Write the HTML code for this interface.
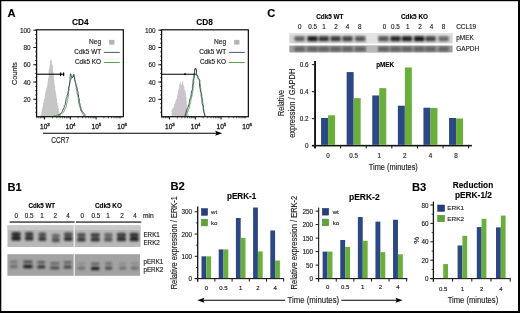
<!DOCTYPE html>
<html><head><meta charset="utf-8"><style>
html,body{margin:0;padding:0;background:#fff;}
.fig{position:relative;width:520px;height:313px;overflow:hidden;background:#fff;}
svg{position:absolute;left:0;top:0;will-change:transform;}
text{font-family:"Liberation Sans",sans-serif;}
</style></head><body><div class="fig">
<svg width="520" height="313" viewBox="0 0 520 313">
<defs>
<filter id="bl1" x="-5%" y="-20%" width="110%" height="140%"><feGaussianBlur stdDeviation="0.5"/></filter>
<filter id="bl2" x="-20%" y="-50%" width="140%" height="200%"><feGaussianBlur stdDeviation="0.9"/></filter>
<filter id="bl3" x="-20%" y="-50%" width="140%" height="200%"><feGaussianBlur stdDeviation="1.0"/></filter>
</defs>
<rect x="0" y="0" width="520" height="313" fill="#fff"/>
<text x="7.60" y="16.90" font-size="11.2" text-anchor="start" font-weight="bold" stroke="#000" stroke-width="0.12" fill="#000" >A</text>
<text x="80.30" y="25.10" font-size="8.3" text-anchor="middle" font-weight="bold" stroke="#000" stroke-width="0.12" fill="#000" >CD4</text>
<path d="M40.30,116.60 L40.55,115.50 L40.91,114.40 L41.45,113.30 L41.41,112.20 L41.72,111.10 L42.06,110.00 L41.98,109.00 L42.41,108.00 L42.69,107.00 L43.01,106.00 L42.72,105.00 L43.06,104.00 L43.11,103.00 L43.82,102.00 L43.94,101.00 L43.68,100.00 L44.55,99.00 L44.75,98.00 L44.75,97.00 L44.94,96.00 L44.83,95.00 L44.95,94.00 L45.52,93.00 L45.49,91.88 L45.88,90.75 L46.22,89.62 L46.37,88.50 L46.83,87.40 L46.98,86.30 L47.42,85.20 L47.35,84.10 L47.60,83.00 L47.68,81.86 L47.97,80.72 L48.01,79.58 L48.06,78.44 L48.75,77.30 L48.85,76.25 L48.84,75.20 L48.85,74.15 L48.67,73.10 L48.71,72.05 L48.85,71.00 L48.82,69.80 L49.44,68.60 L49.31,67.40 L49.74,66.20 L49.60,65.16 L50.18,64.12 L50.28,63.08 L49.87,62.04 L50.20,61.00 L50.89,59.93 L50.78,58.87 L51.34,57.80 L51.23,58.90 L51.30,60.00 L51.84,61.00 L52.09,62.00 L51.89,63.00 L51.91,64.00 L52.38,65.10 L53.12,66.20 L53.13,67.40 L52.83,68.60 L53.07,69.80 L53.12,71.00 L53.19,72.05 L53.81,73.10 L53.47,74.15 L53.84,75.20 L53.86,76.25 L53.78,77.30 L54.28,78.44 L53.98,79.58 L54.46,80.72 L54.21,81.86 L54.54,83.00 L54.50,84.10 L54.64,85.20 L55.23,86.30 L55.21,87.40 L54.96,88.50 L55.55,89.58 L55.26,90.67 L55.58,91.75 L56.08,92.83 L56.12,93.92 L55.92,95.00 L56.71,96.00 L56.34,97.00 L56.55,98.00 L57.08,99.00 L56.94,100.00 L57.09,101.00 L57.10,102.00 L57.28,103.00 L57.80,104.00 L57.73,105.00 L58.16,106.00 L58.17,107.00 L58.40,108.00 L58.92,109.00 L58.83,110.00 L59.13,111.00 L59.58,112.00 L59.34,113.00 L59.56,114.00 L60.79,115.30 L61.20,116.60 Z" fill="#c6c6c6" stroke="none" stroke-width="1" />
<path d="M53.00,116.40 L54.14,116.00 L55.29,115.60 L56.79,115.20 L57.64,114.80 L59.22,114.40 L60.42,114.00 L61.23,113.50 L62.50,113.00 L63.82,111.90 L64.54,110.70 L64.79,109.50 L65.28,108.30 L65.95,107.10 L66.45,105.98 L66.27,104.87 L66.58,103.75 L67.08,102.63 L67.52,101.52 L67.55,100.40 L67.64,99.28 L68.19,98.16 L67.83,97.04 L68.52,95.92 L68.37,94.80 L68.35,93.62 L68.40,92.43 L68.59,91.25 L68.96,90.07 L68.64,88.88 L68.95,87.70 L69.26,86.44 L69.38,85.18 L69.77,83.92 L69.76,82.66 L70.04,81.40 L70.57,80.20 L71.31,79.00 L71.56,77.95 L71.89,76.90 L73.05,75.20 L73.77,74.30 L73.90,75.62 L74.43,76.95 L74.59,78.27 L74.55,79.60 L74.97,80.82 L75.17,82.05 L75.60,83.28 L75.74,84.50 L75.72,85.75 L76.39,87.00 L76.12,88.25 L76.55,89.50 L76.95,90.60 L76.79,91.70 L77.19,92.80 L77.12,93.90 L77.70,95.00 L77.94,96.20 L78.00,97.40 L78.37,98.60 L78.21,99.80 L78.62,101.00 L78.76,102.12 L78.95,103.25 L79.07,104.38 L79.50,105.50 L79.93,106.67 L80.02,107.83 L80.50,109.00 L80.74,110.50 L81.72,112.00 L82.29,113.15 L83.10,114.30 L83.59,115.35 L84.00,116.40" fill="none" stroke="#62a444" stroke-width="0.95" stroke-linejoin="round"/>
<path d="M57.50,116.40 L58.49,115.60 L59.83,114.80 L60.57,113.65 L61.56,112.50 L62.43,111.25 L62.94,110.00 L63.29,108.86 L64.16,107.72 L64.20,106.58 L64.56,105.44 L65.40,104.30 L65.32,103.18 L65.77,102.07 L65.79,100.95 L66.12,99.83 L66.06,98.72 L66.58,97.60 L67.10,96.40 L67.26,95.20 L67.77,94.00 L68.10,92.80 L67.96,91.60 L68.60,90.40 L68.73,89.20 L68.78,88.00 L68.82,86.70 L69.52,85.40 L69.48,84.10 L69.73,82.88 L69.93,81.66 L69.93,80.44 L70.15,79.22 L69.94,78.00 L70.28,76.60 L70.17,75.20 L70.56,73.80 L71.08,74.80 L71.16,75.80 L71.73,76.80 L72.33,77.80 L73.48,76.00 L73.76,74.70 L74.11,75.80 L74.15,76.90 L74.50,78.00 L74.66,79.13 L74.88,80.27 L75.25,81.40 L75.51,82.48 L75.96,83.56 L76.09,84.64 L76.50,85.72 L76.71,86.80 L77.09,87.97 L77.20,89.13 L77.20,90.30 L77.84,91.42 L78.13,92.55 L78.32,93.67 L78.34,94.80 L78.65,96.10 L78.58,97.40 L79.17,98.70 L79.24,100.00 L79.22,101.20 L79.24,102.40 L79.86,103.60 L80.09,104.80 L79.95,106.03 L80.78,107.27 L80.95,108.50 L81.39,109.85 L82.08,111.20 L83.56,113.00 L84.82,114.30 L84.93,115.35 L85.80,116.40" fill="none" stroke="#2e4464" stroke-width="0.95" stroke-linejoin="round"/>
<rect x="36.60" y="29.80" width="86.75" height="86.90" fill="none" stroke="#141414" stroke-width="1.25"/>
<line x1="33.30" y1="30.20" x2="36.60" y2="30.20" stroke="#141414" stroke-width="1.0"/>
<text x="30.60" y="32.90" font-size="6.4" text-anchor="end" stroke="#1c1c1c" stroke-width="0.15" fill="#1c1c1c" >100</text>
<line x1="33.30" y1="47.48" x2="36.60" y2="47.48" stroke="#141414" stroke-width="1.0"/>
<text x="30.60" y="50.18" font-size="6.4" text-anchor="end" stroke="#1c1c1c" stroke-width="0.15" fill="#1c1c1c" >80</text>
<line x1="33.30" y1="64.76" x2="36.60" y2="64.76" stroke="#141414" stroke-width="1.0"/>
<text x="30.60" y="67.46" font-size="6.4" text-anchor="end" stroke="#1c1c1c" stroke-width="0.15" fill="#1c1c1c" >60</text>
<line x1="33.30" y1="82.04" x2="36.60" y2="82.04" stroke="#141414" stroke-width="1.0"/>
<text x="30.60" y="84.74" font-size="6.4" text-anchor="end" stroke="#1c1c1c" stroke-width="0.15" fill="#1c1c1c" >40</text>
<line x1="33.30" y1="99.32" x2="36.60" y2="99.32" stroke="#141414" stroke-width="1.0"/>
<text x="30.60" y="102.02" font-size="6.4" text-anchor="end" stroke="#1c1c1c" stroke-width="0.15" fill="#1c1c1c" >20</text>
<line x1="35.00" y1="30.20" x2="36.60" y2="30.20" stroke="#141414" stroke-width="0.7"/>
<line x1="35.00" y1="34.52" x2="36.60" y2="34.52" stroke="#141414" stroke-width="0.7"/>
<line x1="35.00" y1="38.84" x2="36.60" y2="38.84" stroke="#141414" stroke-width="0.7"/>
<line x1="35.00" y1="43.16" x2="36.60" y2="43.16" stroke="#141414" stroke-width="0.7"/>
<line x1="35.00" y1="47.48" x2="36.60" y2="47.48" stroke="#141414" stroke-width="0.7"/>
<line x1="35.00" y1="51.80" x2="36.60" y2="51.80" stroke="#141414" stroke-width="0.7"/>
<line x1="35.00" y1="56.12" x2="36.60" y2="56.12" stroke="#141414" stroke-width="0.7"/>
<line x1="35.00" y1="60.44" x2="36.60" y2="60.44" stroke="#141414" stroke-width="0.7"/>
<line x1="35.00" y1="64.76" x2="36.60" y2="64.76" stroke="#141414" stroke-width="0.7"/>
<line x1="35.00" y1="69.08" x2="36.60" y2="69.08" stroke="#141414" stroke-width="0.7"/>
<line x1="35.00" y1="73.40" x2="36.60" y2="73.40" stroke="#141414" stroke-width="0.7"/>
<line x1="35.00" y1="77.72" x2="36.60" y2="77.72" stroke="#141414" stroke-width="0.7"/>
<line x1="35.00" y1="82.04" x2="36.60" y2="82.04" stroke="#141414" stroke-width="0.7"/>
<line x1="35.00" y1="86.36" x2="36.60" y2="86.36" stroke="#141414" stroke-width="0.7"/>
<line x1="35.00" y1="90.68" x2="36.60" y2="90.68" stroke="#141414" stroke-width="0.7"/>
<line x1="35.00" y1="95.00" x2="36.60" y2="95.00" stroke="#141414" stroke-width="0.7"/>
<line x1="35.00" y1="99.32" x2="36.60" y2="99.32" stroke="#141414" stroke-width="0.7"/>
<line x1="35.00" y1="103.64" x2="36.60" y2="103.64" stroke="#141414" stroke-width="0.7"/>
<line x1="35.00" y1="107.96" x2="36.60" y2="107.96" stroke="#141414" stroke-width="0.7"/>
<line x1="35.00" y1="112.28" x2="36.60" y2="112.28" stroke="#141414" stroke-width="0.7"/>
<line x1="36.85" y1="116.70" x2="36.85" y2="118.30" stroke="#141414" stroke-width="0.7"/>
<line x1="38.89" y1="116.70" x2="38.89" y2="118.30" stroke="#141414" stroke-width="0.7"/>
<line x1="40.61" y1="116.70" x2="40.61" y2="118.30" stroke="#141414" stroke-width="0.7"/>
<line x1="42.10" y1="116.70" x2="42.10" y2="118.30" stroke="#141414" stroke-width="0.7"/>
<line x1="43.42" y1="116.70" x2="43.42" y2="118.30" stroke="#141414" stroke-width="0.7"/>
<line x1="44.60" y1="116.70" x2="44.60" y2="119.50" stroke="#141414" stroke-width="1.0"/>
<line x1="52.35" y1="116.70" x2="52.35" y2="118.30" stroke="#141414" stroke-width="0.7"/>
<line x1="56.89" y1="116.70" x2="56.89" y2="118.30" stroke="#141414" stroke-width="0.7"/>
<line x1="60.10" y1="116.70" x2="60.10" y2="118.30" stroke="#141414" stroke-width="0.7"/>
<line x1="62.60" y1="116.70" x2="62.60" y2="118.30" stroke="#141414" stroke-width="0.7"/>
<line x1="64.64" y1="116.70" x2="64.64" y2="118.30" stroke="#141414" stroke-width="0.7"/>
<line x1="66.36" y1="116.70" x2="66.36" y2="118.30" stroke="#141414" stroke-width="0.7"/>
<line x1="67.85" y1="116.70" x2="67.85" y2="118.30" stroke="#141414" stroke-width="0.7"/>
<line x1="69.17" y1="116.70" x2="69.17" y2="118.30" stroke="#141414" stroke-width="0.7"/>
<line x1="70.35" y1="116.70" x2="70.35" y2="119.50" stroke="#141414" stroke-width="1.0"/>
<line x1="78.10" y1="116.70" x2="78.10" y2="118.30" stroke="#141414" stroke-width="0.7"/>
<line x1="82.64" y1="116.70" x2="82.64" y2="118.30" stroke="#141414" stroke-width="0.7"/>
<line x1="85.85" y1="116.70" x2="85.85" y2="118.30" stroke="#141414" stroke-width="0.7"/>
<line x1="88.35" y1="116.70" x2="88.35" y2="118.30" stroke="#141414" stroke-width="0.7"/>
<line x1="90.39" y1="116.70" x2="90.39" y2="118.30" stroke="#141414" stroke-width="0.7"/>
<line x1="92.11" y1="116.70" x2="92.11" y2="118.30" stroke="#141414" stroke-width="0.7"/>
<line x1="93.60" y1="116.70" x2="93.60" y2="118.30" stroke="#141414" stroke-width="0.7"/>
<line x1="94.92" y1="116.70" x2="94.92" y2="118.30" stroke="#141414" stroke-width="0.7"/>
<line x1="96.10" y1="116.70" x2="96.10" y2="119.50" stroke="#141414" stroke-width="1.0"/>
<line x1="103.85" y1="116.70" x2="103.85" y2="118.30" stroke="#141414" stroke-width="0.7"/>
<line x1="108.39" y1="116.70" x2="108.39" y2="118.30" stroke="#141414" stroke-width="0.7"/>
<line x1="111.60" y1="116.70" x2="111.60" y2="118.30" stroke="#141414" stroke-width="0.7"/>
<line x1="114.10" y1="116.70" x2="114.10" y2="118.30" stroke="#141414" stroke-width="0.7"/>
<line x1="116.14" y1="116.70" x2="116.14" y2="118.30" stroke="#141414" stroke-width="0.7"/>
<line x1="117.86" y1="116.70" x2="117.86" y2="118.30" stroke="#141414" stroke-width="0.7"/>
<line x1="119.35" y1="116.70" x2="119.35" y2="118.30" stroke="#141414" stroke-width="0.7"/>
<line x1="120.67" y1="116.70" x2="120.67" y2="118.30" stroke="#141414" stroke-width="0.7"/>
<text x="44.90" y="128.5" font-size="6.5" text-anchor="middle" fill="#1c1c1c" stroke="#1c1c1c" stroke-width="0.3">10<tspan font-size="4.4" dy="-2.8">3</tspan></text>
<text x="70.65" y="128.5" font-size="6.5" text-anchor="middle" fill="#1c1c1c" stroke="#1c1c1c" stroke-width="0.3">10<tspan font-size="4.4" dy="-2.8">4</tspan></text>
<text x="96.40" y="128.5" font-size="6.5" text-anchor="middle" fill="#1c1c1c" stroke="#1c1c1c" stroke-width="0.3">10<tspan font-size="4.4" dy="-2.8">5</tspan></text>
<text x="122.15" y="128.5" font-size="6.5" text-anchor="middle" fill="#1c1c1c" stroke="#1c1c1c" stroke-width="0.3">10<tspan font-size="4.4" dy="-2.8">6</tspan></text>
<text x="101.15" y="44.20" font-size="6.6" text-anchor="end" stroke="#1c1c1c" stroke-width="0.15" fill="#1c1c1c" >Neg</text>
<rect x="109.15" y="39.90" width="5.30" height="4.70" fill="#b4b4b4" />
<text x="101.15" y="54.30" font-size="6.6" text-anchor="end" textLength="26.80" lengthAdjust="spacingAndGlyphs" stroke="#1c1c1c" stroke-width="0.15" fill="#1c1c1c" >Cdk5 WT</text>
<line x1="103.95" y1="52.40" x2="119.75" y2="52.40" stroke="#3a4a8a" stroke-width="0.95"/>
<text x="101.15" y="64.30" font-size="6.6" text-anchor="end" textLength="26.20" lengthAdjust="spacingAndGlyphs" stroke="#1c1c1c" stroke-width="0.15" fill="#1c1c1c" >Cdk5 KO</text>
<line x1="103.95" y1="62.50" x2="119.75" y2="62.50" stroke="#4a9e3a" stroke-width="0.95"/>
<line x1="36.60" y1="74.20" x2="64.20" y2="74.20" stroke="#000" stroke-width="1.1"/>
<line x1="60.60" y1="72.50" x2="60.60" y2="75.90" stroke="#000" stroke-width="1.2"/>
<line x1="63.60" y1="72.50" x2="63.60" y2="75.90" stroke="#000" stroke-width="1.2"/>
<text x="204.60" y="25.10" font-size="8.3" text-anchor="middle" font-weight="bold" stroke="#000" stroke-width="0.12" fill="#000" >CD8</text>
<path d="M171.50,116.60 L171.57,115.58 L171.55,114.57 L171.50,113.55 L171.75,112.53 L171.53,111.52 L171.35,110.50 L172.40,109.50 L172.68,108.50 L173.78,107.30 L174.01,106.10 L173.99,104.90 L174.39,103.93 L175.23,102.95 L175.40,101.97 L175.58,101.00 L175.90,99.90 L176.66,98.80 L177.10,97.70 L176.83,96.53 L177.53,95.35 L177.41,94.17 L177.98,93.00 L177.70,91.95 L178.45,90.90 L178.25,89.85 L178.97,88.80 L179.22,87.60 L179.11,86.40 L179.09,85.20 L179.33,84.00 L180.11,82.75 L180.32,81.50 L180.61,82.50 L180.88,83.50 L180.73,84.50 L181.60,85.50 L181.39,84.33 L181.92,83.17 L182.13,82.00 L182.47,80.50 L183.02,81.67 L183.30,82.83 L183.22,84.00 L183.52,85.17 L184.03,86.33 L184.39,87.50 L184.30,88.75 L184.66,90.00 L185.58,91.20 L185.88,92.40 L185.71,93.52 L186.43,94.64 L186.01,95.76 L186.39,96.88 L186.19,98.00 L186.80,99.02 L186.54,100.04 L186.46,101.06 L186.94,102.08 L186.66,103.10 L186.64,104.32 L186.93,105.55 L187.41,106.78 L186.95,108.00 L187.54,109.00 L187.43,110.00 L187.88,111.00 L187.69,112.00 L187.83,113.15 L188.32,114.30 L188.41,115.45 L188.60,116.60 Z" fill="#ccc4cd" stroke="none" stroke-width="1" />
<path d="M185.80,116.40 L186.25,114.95 L186.74,113.50 L187.64,112.00 L188.24,110.50 L188.32,109.40 L189.08,108.30 L189.57,107.20 L189.78,106.03 L189.56,104.85 L190.41,103.67 L190.26,102.50 L190.85,101.28 L190.75,100.05 L191.27,98.82 L191.44,97.60 L191.85,96.23 L192.13,94.87 L192.41,93.50 L192.65,92.15 L192.92,90.80 L192.94,89.70 L193.05,88.60 L193.37,87.50 L193.35,86.38 L193.53,85.25 L193.35,84.12 L193.77,83.00 L193.88,81.55 L193.62,80.10 L194.23,78.80 L194.33,77.50 L194.51,76.00 L194.78,74.50 L194.74,73.17 L194.77,71.83 L194.93,70.50 L194.79,68.80 L195.84,68.80 L196.22,69.90 L196.52,71.00 L196.55,72.27 L196.66,73.53 L197.09,74.80 L197.92,76.15 L198.47,77.50 L198.81,78.50 L199.59,79.50 L199.95,80.50 L200.07,81.62 L199.89,82.75 L200.17,83.88 L200.33,85.00 L200.25,86.17 L200.52,87.33 L200.76,88.50 L200.68,89.83 L201.03,91.17 L201.56,92.50 L201.54,93.78 L201.89,95.05 L201.79,96.32 L202.02,97.60 L202.52,98.82 L202.66,100.05 L202.42,101.28 L202.87,102.50 L203.11,103.67 L203.25,104.85 L203.40,106.03 L203.58,107.20 L203.60,108.63 L204.00,110.07 L204.06,111.50 L204.43,112.72 L204.75,113.95 L205.01,115.18 L205.00,116.40" fill="none" stroke="#62a444" stroke-width="0.95" stroke-linejoin="round"/>
<path d="M184.60,116.40 L185.36,114.95 L185.44,113.50 L186.21,112.00 L186.58,110.50 L186.95,109.40 L187.46,108.30 L188.18,107.20 L188.25,106.03 L188.80,104.85 L189.13,103.67 L189.33,102.50 L189.34,101.28 L189.67,100.05 L190.07,98.82 L190.42,97.60 L191.01,96.23 L191.16,94.87 L191.26,93.50 L191.40,92.15 L191.84,90.80 L192.35,89.70 L192.50,88.60 L192.39,87.50 L192.49,86.38 L192.61,85.25 L192.91,84.12 L193.11,83.00 L192.92,81.55 L193.34,80.10 L193.30,78.80 L193.94,77.50 L193.84,76.00 L194.35,74.50 L194.23,73.17 L194.59,71.83 L194.43,70.50 L195.04,68.60 L196.14,68.60 L196.20,69.80 L196.68,71.00 L196.54,72.27 L196.48,73.53 L196.50,74.80 L197.27,76.15 L197.66,77.50 L198.16,78.50 L198.92,79.50 L199.36,80.50 L199.56,81.62 L199.35,82.75 L199.69,83.88 L199.55,85.00 L199.80,86.17 L199.80,87.33 L200.06,88.50 L200.41,89.83 L200.29,91.17 L200.79,92.50 L201.18,93.78 L201.18,95.05 L201.19,96.32 L201.77,97.60 L201.84,98.82 L202.04,100.05 L201.92,101.28 L202.07,102.50 L202.22,103.67 L202.68,104.85 L203.06,106.03 L203.15,107.20 L203.17,108.63 L203.51,110.07 L203.64,111.50 L203.84,112.72 L204.58,113.95 L204.63,115.18 L204.80,116.40" fill="none" stroke="#2e4464" stroke-width="0.95" stroke-linejoin="round"/>
<rect x="161.60" y="29.80" width="86.75" height="86.90" fill="none" stroke="#141414" stroke-width="1.25"/>
<line x1="158.30" y1="30.20" x2="161.60" y2="30.20" stroke="#141414" stroke-width="1.0"/>
<text x="155.60" y="32.90" font-size="6.4" text-anchor="end" stroke="#1c1c1c" stroke-width="0.15" fill="#1c1c1c" >100</text>
<line x1="158.30" y1="47.48" x2="161.60" y2="47.48" stroke="#141414" stroke-width="1.0"/>
<text x="155.60" y="50.18" font-size="6.4" text-anchor="end" stroke="#1c1c1c" stroke-width="0.15" fill="#1c1c1c" >80</text>
<line x1="158.30" y1="64.76" x2="161.60" y2="64.76" stroke="#141414" stroke-width="1.0"/>
<text x="155.60" y="67.46" font-size="6.4" text-anchor="end" stroke="#1c1c1c" stroke-width="0.15" fill="#1c1c1c" >60</text>
<line x1="158.30" y1="82.04" x2="161.60" y2="82.04" stroke="#141414" stroke-width="1.0"/>
<text x="155.60" y="84.74" font-size="6.4" text-anchor="end" stroke="#1c1c1c" stroke-width="0.15" fill="#1c1c1c" >40</text>
<line x1="158.30" y1="99.32" x2="161.60" y2="99.32" stroke="#141414" stroke-width="1.0"/>
<text x="155.60" y="102.02" font-size="6.4" text-anchor="end" stroke="#1c1c1c" stroke-width="0.15" fill="#1c1c1c" >20</text>
<line x1="160.00" y1="30.20" x2="161.60" y2="30.20" stroke="#141414" stroke-width="0.7"/>
<line x1="160.00" y1="34.52" x2="161.60" y2="34.52" stroke="#141414" stroke-width="0.7"/>
<line x1="160.00" y1="38.84" x2="161.60" y2="38.84" stroke="#141414" stroke-width="0.7"/>
<line x1="160.00" y1="43.16" x2="161.60" y2="43.16" stroke="#141414" stroke-width="0.7"/>
<line x1="160.00" y1="47.48" x2="161.60" y2="47.48" stroke="#141414" stroke-width="0.7"/>
<line x1="160.00" y1="51.80" x2="161.60" y2="51.80" stroke="#141414" stroke-width="0.7"/>
<line x1="160.00" y1="56.12" x2="161.60" y2="56.12" stroke="#141414" stroke-width="0.7"/>
<line x1="160.00" y1="60.44" x2="161.60" y2="60.44" stroke="#141414" stroke-width="0.7"/>
<line x1="160.00" y1="64.76" x2="161.60" y2="64.76" stroke="#141414" stroke-width="0.7"/>
<line x1="160.00" y1="69.08" x2="161.60" y2="69.08" stroke="#141414" stroke-width="0.7"/>
<line x1="160.00" y1="73.40" x2="161.60" y2="73.40" stroke="#141414" stroke-width="0.7"/>
<line x1="160.00" y1="77.72" x2="161.60" y2="77.72" stroke="#141414" stroke-width="0.7"/>
<line x1="160.00" y1="82.04" x2="161.60" y2="82.04" stroke="#141414" stroke-width="0.7"/>
<line x1="160.00" y1="86.36" x2="161.60" y2="86.36" stroke="#141414" stroke-width="0.7"/>
<line x1="160.00" y1="90.68" x2="161.60" y2="90.68" stroke="#141414" stroke-width="0.7"/>
<line x1="160.00" y1="95.00" x2="161.60" y2="95.00" stroke="#141414" stroke-width="0.7"/>
<line x1="160.00" y1="99.32" x2="161.60" y2="99.32" stroke="#141414" stroke-width="0.7"/>
<line x1="160.00" y1="103.64" x2="161.60" y2="103.64" stroke="#141414" stroke-width="0.7"/>
<line x1="160.00" y1="107.96" x2="161.60" y2="107.96" stroke="#141414" stroke-width="0.7"/>
<line x1="160.00" y1="112.28" x2="161.60" y2="112.28" stroke="#141414" stroke-width="0.7"/>
<line x1="161.85" y1="116.70" x2="161.85" y2="118.30" stroke="#141414" stroke-width="0.7"/>
<line x1="163.89" y1="116.70" x2="163.89" y2="118.30" stroke="#141414" stroke-width="0.7"/>
<line x1="165.61" y1="116.70" x2="165.61" y2="118.30" stroke="#141414" stroke-width="0.7"/>
<line x1="167.10" y1="116.70" x2="167.10" y2="118.30" stroke="#141414" stroke-width="0.7"/>
<line x1="168.42" y1="116.70" x2="168.42" y2="118.30" stroke="#141414" stroke-width="0.7"/>
<line x1="169.60" y1="116.70" x2="169.60" y2="119.50" stroke="#141414" stroke-width="1.0"/>
<line x1="177.35" y1="116.70" x2="177.35" y2="118.30" stroke="#141414" stroke-width="0.7"/>
<line x1="181.89" y1="116.70" x2="181.89" y2="118.30" stroke="#141414" stroke-width="0.7"/>
<line x1="185.10" y1="116.70" x2="185.10" y2="118.30" stroke="#141414" stroke-width="0.7"/>
<line x1="187.60" y1="116.70" x2="187.60" y2="118.30" stroke="#141414" stroke-width="0.7"/>
<line x1="189.64" y1="116.70" x2="189.64" y2="118.30" stroke="#141414" stroke-width="0.7"/>
<line x1="191.36" y1="116.70" x2="191.36" y2="118.30" stroke="#141414" stroke-width="0.7"/>
<line x1="192.85" y1="116.70" x2="192.85" y2="118.30" stroke="#141414" stroke-width="0.7"/>
<line x1="194.17" y1="116.70" x2="194.17" y2="118.30" stroke="#141414" stroke-width="0.7"/>
<line x1="195.35" y1="116.70" x2="195.35" y2="119.50" stroke="#141414" stroke-width="1.0"/>
<line x1="203.10" y1="116.70" x2="203.10" y2="118.30" stroke="#141414" stroke-width="0.7"/>
<line x1="207.64" y1="116.70" x2="207.64" y2="118.30" stroke="#141414" stroke-width="0.7"/>
<line x1="210.85" y1="116.70" x2="210.85" y2="118.30" stroke="#141414" stroke-width="0.7"/>
<line x1="213.35" y1="116.70" x2="213.35" y2="118.30" stroke="#141414" stroke-width="0.7"/>
<line x1="215.39" y1="116.70" x2="215.39" y2="118.30" stroke="#141414" stroke-width="0.7"/>
<line x1="217.11" y1="116.70" x2="217.11" y2="118.30" stroke="#141414" stroke-width="0.7"/>
<line x1="218.60" y1="116.70" x2="218.60" y2="118.30" stroke="#141414" stroke-width="0.7"/>
<line x1="219.92" y1="116.70" x2="219.92" y2="118.30" stroke="#141414" stroke-width="0.7"/>
<line x1="221.10" y1="116.70" x2="221.10" y2="119.50" stroke="#141414" stroke-width="1.0"/>
<line x1="228.85" y1="116.70" x2="228.85" y2="118.30" stroke="#141414" stroke-width="0.7"/>
<line x1="233.39" y1="116.70" x2="233.39" y2="118.30" stroke="#141414" stroke-width="0.7"/>
<line x1="236.60" y1="116.70" x2="236.60" y2="118.30" stroke="#141414" stroke-width="0.7"/>
<line x1="239.10" y1="116.70" x2="239.10" y2="118.30" stroke="#141414" stroke-width="0.7"/>
<line x1="241.14" y1="116.70" x2="241.14" y2="118.30" stroke="#141414" stroke-width="0.7"/>
<line x1="242.86" y1="116.70" x2="242.86" y2="118.30" stroke="#141414" stroke-width="0.7"/>
<line x1="244.35" y1="116.70" x2="244.35" y2="118.30" stroke="#141414" stroke-width="0.7"/>
<line x1="245.67" y1="116.70" x2="245.67" y2="118.30" stroke="#141414" stroke-width="0.7"/>
<text x="169.90" y="128.5" font-size="6.5" text-anchor="middle" fill="#1c1c1c" stroke="#1c1c1c" stroke-width="0.3">10<tspan font-size="4.4" dy="-2.8">3</tspan></text>
<text x="195.65" y="128.5" font-size="6.5" text-anchor="middle" fill="#1c1c1c" stroke="#1c1c1c" stroke-width="0.3">10<tspan font-size="4.4" dy="-2.8">4</tspan></text>
<text x="221.40" y="128.5" font-size="6.5" text-anchor="middle" fill="#1c1c1c" stroke="#1c1c1c" stroke-width="0.3">10<tspan font-size="4.4" dy="-2.8">5</tspan></text>
<text x="247.15" y="128.5" font-size="6.5" text-anchor="middle" fill="#1c1c1c" stroke="#1c1c1c" stroke-width="0.3">10<tspan font-size="4.4" dy="-2.8">6</tspan></text>
<text x="226.15" y="44.20" font-size="6.6" text-anchor="end" stroke="#1c1c1c" stroke-width="0.15" fill="#1c1c1c" >Neg</text>
<rect x="234.15" y="39.90" width="5.30" height="4.70" fill="#b4b4b4" />
<text x="226.15" y="54.30" font-size="6.6" text-anchor="end" textLength="26.80" lengthAdjust="spacingAndGlyphs" stroke="#1c1c1c" stroke-width="0.15" fill="#1c1c1c" >Cdk5 WT</text>
<line x1="228.95" y1="52.40" x2="244.75" y2="52.40" stroke="#3a4a8a" stroke-width="0.95"/>
<text x="226.15" y="64.30" font-size="6.6" text-anchor="end" textLength="26.20" lengthAdjust="spacingAndGlyphs" stroke="#1c1c1c" stroke-width="0.15" fill="#1c1c1c" >Cdk5 KO</text>
<line x1="228.95" y1="62.50" x2="244.75" y2="62.50" stroke="#4a9e3a" stroke-width="0.95"/>
<line x1="161.60" y1="74.20" x2="195.80" y2="74.20" stroke="#000" stroke-width="1.1"/>
<circle cx="185.00" cy="74.2" r="1.0" fill="#000"/>
<text x="17.30" y="73.60" font-size="7.6" text-anchor="middle" textLength="23.00" lengthAdjust="spacingAndGlyphs" stroke="#1c1c1c" stroke-width="0.15" fill="#1c1c1c" transform="rotate(-90 17.3 73.6)">Counts</text>
<line x1="43.00" y1="133.30" x2="217.00" y2="133.30" stroke="#000" stroke-width="1.1"/>
<path d="M222.2,133.3 L215.2,130.8 L216.4,133.3 L215.2,135.8 Z" fill="#000" stroke="none" stroke-width="1" />
<text x="51.30" y="143.20" font-size="8.6" text-anchor="start" textLength="17.80" lengthAdjust="spacingAndGlyphs" stroke="#1c1c1c" stroke-width="0.15" fill="#1c1c1c" >CCR7</text>
<text x="267.30" y="17.10" font-size="11.2" text-anchor="start" font-weight="bold" stroke="#000" stroke-width="0.12" fill="#000" >C</text>
<text x="316.20" y="18.80" font-size="6.4" text-anchor="start" font-weight="bold" textLength="27.30" lengthAdjust="spacingAndGlyphs" stroke="#000" stroke-width="0.12" fill="#000" >Cdk5 WT</text>
<text x="401.00" y="18.80" font-size="6.4" text-anchor="start" font-weight="bold" textLength="27.00" lengthAdjust="spacingAndGlyphs" stroke="#000" stroke-width="0.12" fill="#000" >Cdk5 KO</text>
<text x="299.80" y="28.50" font-size="6.3" text-anchor="middle" stroke="#1c1c1c" stroke-width="0.15" fill="#1c1c1c" >0</text>
<text x="312.70" y="28.50" font-size="6.3" text-anchor="middle" stroke="#1c1c1c" stroke-width="0.15" fill="#1c1c1c" >0.5</text>
<text x="324.00" y="28.50" font-size="6.3" text-anchor="middle" stroke="#1c1c1c" stroke-width="0.15" fill="#1c1c1c" >1</text>
<text x="336.00" y="28.50" font-size="6.3" text-anchor="middle" stroke="#1c1c1c" stroke-width="0.15" fill="#1c1c1c" >2</text>
<text x="347.50" y="28.50" font-size="6.3" text-anchor="middle" stroke="#1c1c1c" stroke-width="0.15" fill="#1c1c1c" >4</text>
<text x="359.80" y="28.50" font-size="6.3" text-anchor="middle" stroke="#1c1c1c" stroke-width="0.15" fill="#1c1c1c" >8</text>
<text x="384.60" y="28.50" font-size="6.3" text-anchor="middle" stroke="#1c1c1c" stroke-width="0.15" fill="#1c1c1c" >0</text>
<text x="395.50" y="28.50" font-size="6.3" text-anchor="middle" stroke="#1c1c1c" stroke-width="0.15" fill="#1c1c1c" >0.5</text>
<text x="407.80" y="28.50" font-size="6.3" text-anchor="middle" stroke="#1c1c1c" stroke-width="0.15" fill="#1c1c1c" >1</text>
<text x="420.00" y="28.50" font-size="6.3" text-anchor="middle" stroke="#1c1c1c" stroke-width="0.15" fill="#1c1c1c" >2</text>
<text x="431.50" y="28.50" font-size="6.3" text-anchor="middle" stroke="#1c1c1c" stroke-width="0.15" fill="#1c1c1c" >4</text>
<text x="443.50" y="28.50" font-size="6.3" text-anchor="middle" stroke="#1c1c1c" stroke-width="0.15" fill="#1c1c1c" >8</text>
<text x="456.20" y="28.60" font-size="6.6" text-anchor="start" textLength="20.00" lengthAdjust="spacingAndGlyphs" stroke="#1c1c1c" stroke-width="0.15" fill="#1c1c1c" >CCL19</text>
<text x="456.20" y="40.10" font-size="6.6" text-anchor="start" textLength="17.60" lengthAdjust="spacingAndGlyphs" stroke="#1c1c1c" stroke-width="0.15" fill="#1c1c1c" >pMEK</text>
<text x="456.20" y="50.90" font-size="6.6" text-anchor="start" textLength="23.00" lengthAdjust="spacingAndGlyphs" stroke="#1c1c1c" stroke-width="0.15" fill="#1c1c1c" >GAPDH</text>
<g filter="url(#bl1)">
<rect x="289.30" y="33.00" width="163.30" height="10.30" fill="#d3d3d3" />
<rect x="289.30" y="33.00" width="163.30" height="2.40" fill="#e2e2e2" />
<rect x="366.50" y="33.00" width="11.50" height="10.30" fill="#e2e2e2" />
<rect x="289.30" y="45.60" width="163.30" height="6.80" fill="#9e9e9e" />
<rect x="366.50" y="45.60" width="11.50" height="6.80" fill="#b8b8b8" />
</g>
<g filter="url(#bl2)">
<rect x="294.50" y="36.3" width="10.2" height="5.0" rx="1.3" fill="rgb(99,99,99)"/>
<rect x="307.40" y="36.3" width="10.2" height="5.0" rx="1.3" fill="rgb(27,27,27)"/>
<rect x="318.70" y="36.3" width="10.2" height="5.0" rx="1.3" fill="rgb(54,54,54)"/>
<rect x="330.50" y="36.3" width="10.2" height="5.0" rx="1.3" fill="rgb(58,58,58)"/>
<rect x="342.40" y="36.3" width="10.2" height="5.0" rx="1.3" fill="rgb(68,68,68)"/>
<rect x="355.10" y="36.3" width="10.2" height="5.0" rx="1.3" fill="rgb(87,87,87)"/>
<rect x="378.40" y="36.3" width="10.2" height="5.0" rx="1.3" fill="rgb(87,87,87)"/>
<rect x="390.40" y="36.3" width="10.2" height="5.0" rx="1.3" fill="rgb(39,39,39)"/>
<rect x="401.90" y="36.3" width="10.2" height="5.0" rx="1.3" fill="rgb(32,32,32)"/>
<rect x="414.10" y="36.3" width="10.2" height="5.0" rx="1.3" fill="rgb(18,18,18)"/>
<rect x="425.50" y="36.3" width="10.2" height="5.0" rx="1.3" fill="rgb(68,68,68)"/>
<rect x="438.50" y="36.3" width="10.2" height="5.0" rx="1.3" fill="rgb(105,105,105)"/>
<rect x="294.40" y="46.7" width="10.4" height="4.6" rx="1" fill="#626262"/>
<rect x="307.30" y="46.7" width="10.4" height="4.6" rx="1" fill="#626262"/>
<rect x="318.60" y="46.7" width="10.4" height="4.6" rx="1" fill="#626262"/>
<rect x="330.40" y="46.7" width="10.4" height="4.6" rx="1" fill="#626262"/>
<rect x="342.30" y="46.7" width="10.4" height="4.6" rx="1" fill="#626262"/>
<rect x="355.00" y="46.7" width="10.4" height="4.6" rx="1" fill="#626262"/>
<rect x="378.30" y="46.7" width="10.4" height="4.6" rx="1" fill="#626262"/>
<rect x="390.30" y="46.7" width="10.4" height="4.6" rx="1" fill="#626262"/>
<rect x="401.80" y="46.7" width="10.4" height="4.6" rx="1" fill="#626262"/>
<rect x="414.00" y="46.7" width="10.4" height="4.6" rx="1" fill="#626262"/>
<rect x="425.40" y="46.7" width="10.4" height="4.6" rx="1" fill="#626262"/>
<rect x="438.40" y="46.7" width="10.4" height="4.6" rx="1" fill="#626262"/>
</g>
<rect x="314.10" y="61.00" width="1.90" height="87.40" fill="#141414" />
<rect x="312.00" y="144.85" width="159.90" height="1.60" fill="#141414" />
<line x1="311.90" y1="145.65" x2="314.10" y2="145.65" stroke="#141414" stroke-width="1.0"/>
<text x="308.60" y="147.85" font-size="6.3" text-anchor="end" stroke="#1c1c1c" stroke-width="0.15" fill="#1c1c1c" >0</text>
<line x1="311.90" y1="118.65" x2="314.10" y2="118.65" stroke="#141414" stroke-width="1.0"/>
<text x="308.60" y="120.85" font-size="6.3" text-anchor="end" stroke="#1c1c1c" stroke-width="0.15" fill="#1c1c1c" >0.2</text>
<line x1="311.90" y1="91.65" x2="314.10" y2="91.65" stroke="#141414" stroke-width="1.0"/>
<text x="308.60" y="93.85" font-size="6.3" text-anchor="end" stroke="#1c1c1c" stroke-width="0.15" fill="#1c1c1c" >0.4</text>
<line x1="311.90" y1="64.65" x2="314.10" y2="64.65" stroke="#141414" stroke-width="1.0"/>
<text x="308.60" y="66.85" font-size="6.3" text-anchor="end" stroke="#1c1c1c" stroke-width="0.15" fill="#1c1c1c" >0.6</text>
<line x1="340.65" y1="145.65" x2="340.65" y2="148.45" stroke="#141414" stroke-width="1.0"/>
<line x1="366.25" y1="145.65" x2="366.25" y2="148.45" stroke="#141414" stroke-width="1.0"/>
<line x1="391.85" y1="145.65" x2="391.85" y2="148.45" stroke="#141414" stroke-width="1.0"/>
<line x1="417.45" y1="145.65" x2="417.45" y2="148.45" stroke="#141414" stroke-width="1.0"/>
<line x1="443.05" y1="145.65" x2="443.05" y2="148.45" stroke="#141414" stroke-width="1.0"/>
<line x1="468.65" y1="145.65" x2="468.65" y2="148.45" stroke="#141414" stroke-width="1.0"/>
<rect x="321.05" y="117.98" width="7.00" height="26.87" fill="#2b4884" />
<rect x="328.05" y="115.28" width="7.00" height="29.57" fill="#6aae3c" />
<text x="328.05" y="157.60" font-size="6.3" text-anchor="middle" stroke="#1c1c1c" stroke-width="0.15" fill="#1c1c1c" >0</text>
<rect x="346.65" y="72.08" width="7.00" height="72.78" fill="#2b4884" />
<rect x="353.65" y="98.13" width="7.00" height="46.72" fill="#6aae3c" />
<text x="353.65" y="157.60" font-size="6.3" text-anchor="middle" stroke="#1c1c1c" stroke-width="0.15" fill="#1c1c1c" >0.5</text>
<rect x="372.25" y="95.43" width="7.00" height="49.42" fill="#2b4884" />
<rect x="379.25" y="88.14" width="7.00" height="56.71" fill="#6aae3c" />
<text x="379.25" y="157.60" font-size="6.3" text-anchor="middle" stroke="#1c1c1c" stroke-width="0.15" fill="#1c1c1c" >1</text>
<rect x="397.85" y="105.69" width="7.00" height="39.16" fill="#2b4884" />
<rect x="404.85" y="67.49" width="7.00" height="77.36" fill="#6aae3c" />
<text x="404.85" y="157.60" font-size="6.3" text-anchor="middle" stroke="#1c1c1c" stroke-width="0.15" fill="#1c1c1c" >2</text>
<rect x="423.45" y="107.72" width="7.00" height="37.14" fill="#2b4884" />
<rect x="430.45" y="107.98" width="7.00" height="36.87" fill="#6aae3c" />
<text x="430.45" y="157.60" font-size="6.3" text-anchor="middle" stroke="#1c1c1c" stroke-width="0.15" fill="#1c1c1c" >4</text>
<rect x="449.05" y="117.98" width="7.00" height="26.87" fill="#2b4884" />
<rect x="456.05" y="118.52" width="7.00" height="26.34" fill="#6aae3c" />
<text x="456.05" y="157.60" font-size="6.3" text-anchor="middle" stroke="#1c1c1c" stroke-width="0.15" fill="#1c1c1c" >8</text>
<text x="376.20" y="67.00" font-size="7.2" text-anchor="start" font-weight="bold" textLength="18.00" lengthAdjust="spacingAndGlyphs" stroke="#000" stroke-width="0.12" fill="#000" >pMEK</text>
<text x="368.80" y="169.60" font-size="8.4" text-anchor="start" textLength="49.00" lengthAdjust="spacingAndGlyphs" stroke="#1c1c1c" stroke-width="0.15" fill="#1c1c1c" >Time (minutes)</text>
<text x="284.40" y="103.00" font-size="8.4" text-anchor="middle" textLength="26.20" lengthAdjust="spacingAndGlyphs" stroke="#1c1c1c" stroke-width="0.15" fill="#1c1c1c" transform="rotate(-90 284.4 103.0)">Relative</text>
<text x="295.40" y="103.25" font-size="8.4" text-anchor="middle" textLength="69.10" lengthAdjust="spacingAndGlyphs" stroke="#1c1c1c" stroke-width="0.15" fill="#1c1c1c" transform="rotate(-90 295.4 103.25)">expression / GAPDH</text>
<text x="7.40" y="190.50" font-size="11.2" text-anchor="start" font-weight="bold" stroke="#000" stroke-width="0.12" fill="#000" >B1</text>
<text x="28.50" y="207.70" font-size="6.4" text-anchor="start" font-weight="bold" textLength="26.60" lengthAdjust="spacingAndGlyphs" stroke="#000" stroke-width="0.12" fill="#000" >Cdk5 WT</text>
<text x="95.00" y="208.00" font-size="6.4" text-anchor="start" font-weight="bold" textLength="26.90" lengthAdjust="spacingAndGlyphs" stroke="#000" stroke-width="0.12" fill="#000" >Cdk5 KO</text>
<text x="16.30" y="218.00" font-size="6.3" text-anchor="middle" stroke="#1c1c1c" stroke-width="0.15" fill="#1c1c1c" >0</text>
<text x="29.20" y="218.00" font-size="6.3" text-anchor="middle" stroke="#1c1c1c" stroke-width="0.15" fill="#1c1c1c" >0.5</text>
<text x="42.00" y="218.00" font-size="6.3" text-anchor="middle" stroke="#1c1c1c" stroke-width="0.15" fill="#1c1c1c" >1</text>
<text x="55.30" y="218.00" font-size="6.3" text-anchor="middle" stroke="#1c1c1c" stroke-width="0.15" fill="#1c1c1c" >2</text>
<text x="68.00" y="218.00" font-size="6.3" text-anchor="middle" stroke="#1c1c1c" stroke-width="0.15" fill="#1c1c1c" >4</text>
<text x="82.30" y="218.00" font-size="6.3" text-anchor="middle" stroke="#1c1c1c" stroke-width="0.15" fill="#1c1c1c" >0</text>
<text x="96.00" y="218.00" font-size="6.3" text-anchor="middle" stroke="#1c1c1c" stroke-width="0.15" fill="#1c1c1c" >0.5</text>
<text x="108.00" y="218.00" font-size="6.3" text-anchor="middle" stroke="#1c1c1c" stroke-width="0.15" fill="#1c1c1c" >1</text>
<text x="122.00" y="218.00" font-size="6.3" text-anchor="middle" stroke="#1c1c1c" stroke-width="0.15" fill="#1c1c1c" >2</text>
<text x="135.00" y="218.00" font-size="6.3" text-anchor="middle" stroke="#1c1c1c" stroke-width="0.15" fill="#1c1c1c" >4</text>
<text x="143.00" y="218.00" font-size="6.3" text-anchor="start" textLength="10.70" lengthAdjust="spacingAndGlyphs" stroke="#1c1c1c" stroke-width="0.15" fill="#1c1c1c" >min</text>
<rect x="9.60" y="221.50" width="65.00" height="1.10" fill="#000" />
<rect x="75.80" y="221.50" width="65.40" height="1.10" fill="#000" />
<g filter="url(#bl1)">
<rect x="7.50" y="225.40" width="133.00" height="21.60" fill="#b8b8b8" />
<rect x="7.50" y="225.40" width="133.00" height="4.50" fill="#c9c9c9" />
<rect x="7.40" y="254.20" width="132.60" height="21.60" fill="#a3a3a3" />
</g>
<g filter="url(#bl3)">
<rect x="11.50" y="231.90" width="9.20" height="4.0" rx="1.5" fill="rgb(49,49,49)"/>
<rect x="11.50" y="236.20" width="9.20" height="4.2" rx="1.5" fill="rgb(28,28,28)"/>
<rect x="25.00" y="231.90" width="8.40" height="4.0" rx="1.5" fill="rgb(63,63,63)"/>
<rect x="25.00" y="236.20" width="8.40" height="4.2" rx="1.5" fill="rgb(49,49,49)"/>
<rect x="38.50" y="232.40" width="7.70" height="4.0" rx="1.5" fill="rgb(77,77,77)"/>
<rect x="38.50" y="236.70" width="7.70" height="4.2" rx="1.5" fill="rgb(58,58,58)"/>
<rect x="51.90" y="233.70" width="7.80" height="4.0" rx="1.5" fill="rgb(105,105,105)"/>
<rect x="51.90" y="238.00" width="7.80" height="4.2" rx="1.5" fill="rgb(84,84,84)"/>
<rect x="64.00" y="232.40" width="8.50" height="4.0" rx="1.5" fill="rgb(70,70,70)"/>
<rect x="64.00" y="236.70" width="8.50" height="4.2" rx="1.5" fill="rgb(53,53,53)"/>
<rect x="77.20" y="233.10" width="8.40" height="4.0" rx="1.5" fill="rgb(81,81,81)"/>
<rect x="77.20" y="237.40" width="8.40" height="4.2" rx="1.5" fill="rgb(56,56,56)"/>
<rect x="90.70" y="233.10" width="9.10" height="4.0" rx="1.5" fill="rgb(67,67,67)"/>
<rect x="90.70" y="237.40" width="9.10" height="4.2" rx="1.5" fill="rgb(53,53,53)"/>
<rect x="104.10" y="233.10" width="8.40" height="4.0" rx="1.5" fill="rgb(105,105,105)"/>
<rect x="104.10" y="237.40" width="8.40" height="4.2" rx="1.5" fill="rgb(84,84,84)"/>
<rect x="116.90" y="232.70" width="9.10" height="4.0" rx="1.5" fill="rgb(63,63,63)"/>
<rect x="116.90" y="237.00" width="9.10" height="4.2" rx="1.5" fill="rgb(49,49,49)"/>
<rect x="129.70" y="232.70" width="9.10" height="4.0" rx="1.5" fill="rgb(53,53,53)"/>
<rect x="129.70" y="237.00" width="9.10" height="4.2" rx="1.5" fill="rgb(39,39,39)"/>
<rect x="9.80" y="260.60" width="7.90" height="2.6" rx="1.2" fill="rgb(119,119,119)"/>
<rect x="9.80" y="264.80" width="7.90" height="3.4" rx="1.2" fill="rgb(112,112,112)"/>
<rect x="23.30" y="260.60" width="9.20" height="2.6" rx="1.2" fill="rgb(76,76,76)"/>
<rect x="23.30" y="264.80" width="9.20" height="3.4" rx="1.2" fill="rgb(27,27,27)"/>
<rect x="37.40" y="261.00" width="7.80" height="2.6" rx="1.2" fill="rgb(85,85,85)"/>
<rect x="37.40" y="265.20" width="7.80" height="3.4" rx="1.2" fill="rgb(52,52,52)"/>
<rect x="50.20" y="262.00" width="9.20" height="2.6" rx="1.2" fill="rgb(99,99,99)"/>
<rect x="50.20" y="266.20" width="9.20" height="3.4" rx="1.2" fill="rgb(79,79,79)"/>
<rect x="63.70" y="261.10" width="7.80" height="2.6" rx="1.2" fill="rgb(99,99,99)"/>
<rect x="63.70" y="265.30" width="7.80" height="3.4" rx="1.2" fill="rgb(76,76,76)"/>
<rect x="77.50" y="262.20" width="7.80" height="2.6" rx="1.2" fill="rgb(139,139,139)"/>
<rect x="77.50" y="266.40" width="7.80" height="3.4" rx="1.2" fill="rgb(112,112,112)"/>
<rect x="91.00" y="262.60" width="8.50" height="2.6" rx="1.2" fill="rgb(99,99,99)"/>
<rect x="91.00" y="266.80" width="8.50" height="3.4" rx="1.2" fill="rgb(35,35,35)"/>
<rect x="105.10" y="262.20" width="7.10" height="2.6" rx="1.2" fill="rgb(106,106,106)"/>
<rect x="105.10" y="266.40" width="7.10" height="3.4" rx="1.2" fill="rgb(76,76,76)"/>
<rect x="119.20" y="262.20" width="7.20" height="2.6" rx="1.2" fill="rgb(139,139,139)"/>
<rect x="119.20" y="266.40" width="7.20" height="3.4" rx="1.2" fill="rgb(112,112,112)"/>
<rect x="130.70" y="262.20" width="7.80" height="2.6" rx="1.2" fill="rgb(139,139,139)"/>
<rect x="130.70" y="266.40" width="7.80" height="3.4" rx="1.2" fill="rgb(112,112,112)"/>
</g>
<rect x="73.70" y="224.00" width="1.00" height="53.50" fill="#fff" />
<text x="143.40" y="236.50" font-size="6.3" text-anchor="start" stroke="#1c1c1c" stroke-width="0.15" fill="#1c1c1c" >ERK1</text>
<text x="143.40" y="244.80" font-size="6.3" text-anchor="start" stroke="#1c1c1c" stroke-width="0.15" fill="#1c1c1c" >ERK2</text>
<text x="143.40" y="264.00" font-size="6.3" text-anchor="start" stroke="#1c1c1c" stroke-width="0.15" fill="#1c1c1c" >pERK1</text>
<text x="143.40" y="271.70" font-size="6.3" text-anchor="start" stroke="#1c1c1c" stroke-width="0.15" fill="#1c1c1c" >pERK2</text>
<text x="170.40" y="190.40" font-size="11.2" text-anchor="start" font-weight="bold" stroke="#000" stroke-width="0.12" fill="#000" >B2</text>
<rect x="197.05" y="206.50" width="1.30" height="75.30" fill="#141414" />
<rect x="194.80" y="278.05" width="89.00" height="1.10" fill="#141414" />
<line x1="194.70" y1="278.60" x2="197.70" y2="278.60" stroke="#141414" stroke-width="1.0"/>
<text x="191.90" y="281.20" font-size="6.3" text-anchor="end" stroke="#1c1c1c" stroke-width="0.15" fill="#1c1c1c" >0</text>
<line x1="194.70" y1="256.32" x2="197.70" y2="256.32" stroke="#141414" stroke-width="1.0"/>
<text x="191.90" y="258.92" font-size="6.3" text-anchor="end" stroke="#1c1c1c" stroke-width="0.15" fill="#1c1c1c" >100</text>
<line x1="194.70" y1="234.04" x2="197.70" y2="234.04" stroke="#141414" stroke-width="1.0"/>
<text x="191.90" y="236.64" font-size="6.3" text-anchor="end" stroke="#1c1c1c" stroke-width="0.15" fill="#1c1c1c" >200</text>
<line x1="194.70" y1="211.76" x2="197.70" y2="211.76" stroke="#141414" stroke-width="1.0"/>
<text x="191.90" y="214.36" font-size="6.3" text-anchor="end" stroke="#1c1c1c" stroke-width="0.15" fill="#1c1c1c" >300</text>
<line x1="195.90" y1="267.46" x2="197.70" y2="267.46" stroke="#141414" stroke-width="0.8"/>
<line x1="195.90" y1="245.18" x2="197.70" y2="245.18" stroke="#141414" stroke-width="0.8"/>
<line x1="195.90" y1="222.90" x2="197.70" y2="222.90" stroke="#141414" stroke-width="0.8"/>
<line x1="214.90" y1="278.60" x2="214.90" y2="281.60" stroke="#141414" stroke-width="1.0"/>
<line x1="232.10" y1="278.60" x2="232.10" y2="281.60" stroke="#141414" stroke-width="1.0"/>
<line x1="249.30" y1="278.60" x2="249.30" y2="281.60" stroke="#141414" stroke-width="1.0"/>
<line x1="266.50" y1="278.60" x2="266.50" y2="281.60" stroke="#141414" stroke-width="1.0"/>
<line x1="283.70" y1="278.60" x2="283.70" y2="281.60" stroke="#141414" stroke-width="1.0"/>
<rect x="201.50" y="256.32" width="4.80" height="21.78" fill="#2b4884" />
<rect x="206.30" y="256.32" width="4.80" height="21.78" fill="#6aae3c" />
<text x="206.30" y="290.20" font-size="6.0" text-anchor="middle" stroke="#1c1c1c" stroke-width="0.15" fill="#1c1c1c" >0</text>
<rect x="218.70" y="249.41" width="4.80" height="28.69" fill="#2b4884" />
<rect x="223.50" y="249.41" width="4.80" height="28.69" fill="#6aae3c" />
<text x="223.50" y="290.20" font-size="6.0" text-anchor="middle" stroke="#1c1c1c" stroke-width="0.15" fill="#1c1c1c" >0.5</text>
<rect x="235.90" y="218.00" width="4.80" height="60.10" fill="#2b4884" />
<rect x="240.70" y="237.83" width="4.80" height="40.27" fill="#6aae3c" />
<text x="240.70" y="290.20" font-size="6.0" text-anchor="middle" stroke="#1c1c1c" stroke-width="0.15" fill="#1c1c1c" >1</text>
<rect x="253.10" y="207.53" width="4.80" height="70.57" fill="#2b4884" />
<rect x="257.90" y="251.42" width="4.80" height="26.68" fill="#6aae3c" />
<text x="257.90" y="290.20" font-size="6.0" text-anchor="middle" stroke="#1c1c1c" stroke-width="0.15" fill="#1c1c1c" >2</text>
<rect x="270.30" y="230.48" width="4.80" height="47.62" fill="#2b4884" />
<rect x="275.10" y="260.55" width="4.80" height="17.55" fill="#6aae3c" />
<text x="275.10" y="290.20" font-size="6.0" text-anchor="middle" stroke="#1c1c1c" stroke-width="0.15" fill="#1c1c1c" >4</text>
<rect x="201.40" y="208.60" width="6.20" height="6.70" fill="#243f7c" stroke="#1c2f60" stroke-width="0.5"/>
<rect x="201.40" y="219.20" width="6.20" height="6.70" fill="#5fa23a" stroke="#4a8a30" stroke-width="0.5"/>
<text x="211.00" y="214.30" font-size="6.1" text-anchor="start" stroke="#2a2a2a" stroke-width="0.15" fill="#2a2a2a" >wt</text>
<text x="211.00" y="224.90" font-size="6.1" text-anchor="start" stroke="#2a2a2a" stroke-width="0.15" fill="#2a2a2a" >ko</text>
<text x="227.00" y="198.60" font-size="8.4" text-anchor="start" font-weight="bold" textLength="29.30" lengthAdjust="spacingAndGlyphs" stroke="#000" stroke-width="0.12" fill="#000" >pERK-1</text>
<text x="176.80" y="242.70" font-size="8.3" text-anchor="middle" textLength="93.20" lengthAdjust="spacingAndGlyphs" stroke="#1c1c1c" stroke-width="0.15" fill="#1c1c1c" transform="rotate(-90 176.8 242.7)">Relative expression / ERK-1</text>
<rect x="318.10" y="207.60" width="1.10" height="74.20" fill="#141414" />
<rect x="315.80" y="278.05" width="91.60" height="1.10" fill="#141414" />
<line x1="315.65" y1="278.60" x2="318.65" y2="278.60" stroke="#141414" stroke-width="1.0"/>
<text x="312.90" y="281.20" font-size="6.3" text-anchor="end" stroke="#1c1c1c" stroke-width="0.15" fill="#1c1c1c" >0</text>
<line x1="315.65" y1="265.10" x2="318.65" y2="265.10" stroke="#141414" stroke-width="1.0"/>
<text x="312.90" y="267.70" font-size="6.3" text-anchor="end" stroke="#1c1c1c" stroke-width="0.15" fill="#1c1c1c" >50</text>
<line x1="315.65" y1="251.60" x2="318.65" y2="251.60" stroke="#141414" stroke-width="1.0"/>
<text x="312.90" y="254.20" font-size="6.3" text-anchor="end" stroke="#1c1c1c" stroke-width="0.15" fill="#1c1c1c" >100</text>
<line x1="315.65" y1="238.10" x2="318.65" y2="238.10" stroke="#141414" stroke-width="1.0"/>
<text x="312.90" y="240.70" font-size="6.3" text-anchor="end" stroke="#1c1c1c" stroke-width="0.15" fill="#1c1c1c" >150</text>
<line x1="315.65" y1="224.60" x2="318.65" y2="224.60" stroke="#141414" stroke-width="1.0"/>
<text x="312.90" y="227.20" font-size="6.3" text-anchor="end" stroke="#1c1c1c" stroke-width="0.15" fill="#1c1c1c" >200</text>
<line x1="315.65" y1="211.10" x2="318.65" y2="211.10" stroke="#141414" stroke-width="1.0"/>
<text x="312.90" y="213.70" font-size="6.3" text-anchor="end" stroke="#1c1c1c" stroke-width="0.15" fill="#1c1c1c" >250</text>
<line x1="336.25" y1="278.60" x2="336.25" y2="281.60" stroke="#141414" stroke-width="1.0"/>
<line x1="353.85" y1="278.60" x2="353.85" y2="281.60" stroke="#141414" stroke-width="1.0"/>
<line x1="371.45" y1="278.60" x2="371.45" y2="281.60" stroke="#141414" stroke-width="1.0"/>
<line x1="389.05" y1="278.60" x2="389.05" y2="281.60" stroke="#141414" stroke-width="1.0"/>
<line x1="406.65" y1="278.60" x2="406.65" y2="281.60" stroke="#141414" stroke-width="1.0"/>
<rect x="322.65" y="251.60" width="4.90" height="26.50" fill="#2b4884" />
<rect x="327.55" y="251.60" width="4.90" height="26.50" fill="#6aae3c" />
<text x="327.55" y="289.10" font-size="6.0" text-anchor="middle" stroke="#1c1c1c" stroke-width="0.15" fill="#1c1c1c" >0</text>
<rect x="340.25" y="239.99" width="4.90" height="38.11" fill="#2b4884" />
<rect x="345.15" y="247.01" width="4.90" height="31.09" fill="#6aae3c" />
<text x="345.15" y="289.10" font-size="6.0" text-anchor="middle" stroke="#1c1c1c" stroke-width="0.15" fill="#1c1c1c" >0.5</text>
<rect x="357.85" y="217.04" width="4.90" height="61.06" fill="#2b4884" />
<rect x="362.75" y="240.80" width="4.90" height="37.30" fill="#6aae3c" />
<text x="362.75" y="289.10" font-size="6.0" text-anchor="middle" stroke="#1c1c1c" stroke-width="0.15" fill="#1c1c1c" >1</text>
<rect x="375.45" y="221.63" width="4.90" height="56.47" fill="#2b4884" />
<rect x="380.35" y="252.14" width="4.90" height="25.96" fill="#6aae3c" />
<text x="380.35" y="289.10" font-size="6.0" text-anchor="middle" stroke="#1c1c1c" stroke-width="0.15" fill="#1c1c1c" >2</text>
<rect x="393.05" y="219.74" width="4.90" height="58.36" fill="#2b4884" />
<rect x="397.95" y="254.30" width="4.90" height="23.80" fill="#6aae3c" />
<text x="397.95" y="289.10" font-size="6.0" text-anchor="middle" stroke="#1c1c1c" stroke-width="0.15" fill="#1c1c1c" >4</text>
<rect x="322.30" y="208.40" width="6.40" height="6.70" fill="#243f7c" stroke="#1c2f60" stroke-width="0.5"/>
<rect x="322.30" y="219.10" width="6.40" height="6.70" fill="#5fa23a" stroke="#4a8a30" stroke-width="0.5"/>
<text x="332.70" y="214.10" font-size="6.1" text-anchor="start" stroke="#2a2a2a" stroke-width="0.15" fill="#2a2a2a" >wt</text>
<text x="332.70" y="224.80" font-size="6.1" text-anchor="start" stroke="#2a2a2a" stroke-width="0.15" fill="#2a2a2a" >ko</text>
<text x="349.00" y="199.90" font-size="8.4" text-anchor="start" font-weight="bold" textLength="30.60" lengthAdjust="spacingAndGlyphs" stroke="#000" stroke-width="0.12" fill="#000" >pERK-2</text>
<text x="297.00" y="242.60" font-size="8.3" text-anchor="middle" textLength="93.60" lengthAdjust="spacingAndGlyphs" stroke="#1c1c1c" stroke-width="0.15" fill="#1c1c1c" transform="rotate(-90 297.0 242.6)">Relative expression / ERK-2</text>
<line x1="202.00" y1="300.20" x2="285.20" y2="300.20" stroke="#000" stroke-width="1.1"/>
<path d="M197.3,300.2 L204.4,297.7 L203.2,300.2 L204.4,302.7 Z" fill="#000" stroke="none" stroke-width="1" />
<text x="287.50" y="303.30" font-size="8.6" text-anchor="start" textLength="51.70" lengthAdjust="spacingAndGlyphs" stroke="#1c1c1c" stroke-width="0.15" fill="#1c1c1c" >Time (minutes)</text>
<line x1="341.40" y1="300.20" x2="397.50" y2="300.20" stroke="#000" stroke-width="1.1"/>
<path d="M402.6,300.2 L395.5,297.7 L396.7,300.2 L395.5,302.7 Z" fill="#000" stroke="none" stroke-width="1" />
<text x="412.00" y="190.90" font-size="11.2" text-anchor="start" font-weight="bold" stroke="#000" stroke-width="0.12" fill="#000" >B3</text>
<text x="452.80" y="187.90" font-size="8.6" text-anchor="start" font-weight="bold" textLength="40.40" lengthAdjust="spacingAndGlyphs" stroke="#000" stroke-width="0.12" fill="#000" >Reduction</text>
<text x="454.90" y="197.80" font-size="8.6" text-anchor="start" font-weight="bold" textLength="37.10" lengthAdjust="spacingAndGlyphs" stroke="#000" stroke-width="0.12" fill="#000" >pERK-1/2</text>
<rect x="432.75" y="201.60" width="1.30" height="80.20" fill="#141414" />
<rect x="430.10" y="278.05" width="80.50" height="1.10" fill="#141414" />
<line x1="430.40" y1="278.60" x2="433.40" y2="278.60" stroke="#141414" stroke-width="1.0"/>
<text x="428.40" y="281.20" font-size="6.3" text-anchor="end" stroke="#1c1c1c" stroke-width="0.15" fill="#1c1c1c" >0</text>
<line x1="430.40" y1="260.20" x2="433.40" y2="260.20" stroke="#141414" stroke-width="1.0"/>
<text x="428.40" y="262.80" font-size="6.3" text-anchor="end" stroke="#1c1c1c" stroke-width="0.15" fill="#1c1c1c" >20</text>
<line x1="430.40" y1="241.80" x2="433.40" y2="241.80" stroke="#141414" stroke-width="1.0"/>
<text x="428.40" y="244.40" font-size="6.3" text-anchor="end" stroke="#1c1c1c" stroke-width="0.15" fill="#1c1c1c" >40</text>
<line x1="430.40" y1="223.40" x2="433.40" y2="223.40" stroke="#141414" stroke-width="1.0"/>
<text x="428.40" y="226.00" font-size="6.3" text-anchor="end" stroke="#1c1c1c" stroke-width="0.15" fill="#1c1c1c" >60</text>
<line x1="430.40" y1="205.00" x2="433.40" y2="205.00" stroke="#141414" stroke-width="1.0"/>
<text x="428.40" y="207.60" font-size="6.3" text-anchor="end" stroke="#1c1c1c" stroke-width="0.15" fill="#1c1c1c" >80</text>
<line x1="431.60" y1="269.40" x2="433.40" y2="269.40" stroke="#141414" stroke-width="0.8"/>
<line x1="431.60" y1="251.00" x2="433.40" y2="251.00" stroke="#141414" stroke-width="0.8"/>
<line x1="431.60" y1="232.60" x2="433.40" y2="232.60" stroke="#141414" stroke-width="0.8"/>
<line x1="431.60" y1="214.20" x2="433.40" y2="214.20" stroke="#141414" stroke-width="0.8"/>
<line x1="452.60" y1="278.60" x2="452.60" y2="281.60" stroke="#141414" stroke-width="1.0"/>
<line x1="471.80" y1="278.60" x2="471.80" y2="281.60" stroke="#141414" stroke-width="1.0"/>
<line x1="491.00" y1="278.60" x2="491.00" y2="281.60" stroke="#141414" stroke-width="1.0"/>
<line x1="510.20" y1="278.60" x2="510.20" y2="281.60" stroke="#141414" stroke-width="1.0"/>
<rect x="443.20" y="264.06" width="4.80" height="14.04" fill="#6aae3c" />
<text x="443.20" y="290.60" font-size="6.0" text-anchor="middle" stroke="#1c1c1c" stroke-width="0.15" fill="#1c1c1c" >0.5</text>
<rect x="457.60" y="245.48" width="4.80" height="32.62" fill="#2b4884" />
<rect x="462.40" y="235.82" width="4.80" height="42.28" fill="#6aae3c" />
<text x="462.40" y="290.60" font-size="6.0" text-anchor="middle" stroke="#1c1c1c" stroke-width="0.15" fill="#1c1c1c" >1</text>
<rect x="476.80" y="227.08" width="4.80" height="51.02" fill="#2b4884" />
<rect x="481.60" y="218.80" width="4.80" height="59.30" fill="#6aae3c" />
<text x="481.60" y="290.60" font-size="6.0" text-anchor="middle" stroke="#1c1c1c" stroke-width="0.15" fill="#1c1c1c" >2</text>
<rect x="496.00" y="227.36" width="4.80" height="50.74" fill="#2b4884" />
<rect x="500.80" y="215.58" width="4.80" height="62.52" fill="#6aae3c" />
<text x="500.80" y="290.60" font-size="6.0" text-anchor="middle" stroke="#1c1c1c" stroke-width="0.15" fill="#1c1c1c" >4</text>
<rect x="437.60" y="205.00" width="7.00" height="6.40" fill="#243f7c" stroke="#1c2f60" stroke-width="0.5"/>
<rect x="437.60" y="215.30" width="7.00" height="6.40" fill="#5fa23a" stroke="#4a8a30" stroke-width="0.5"/>
<text x="447.30" y="210.40" font-size="6.1" text-anchor="start" textLength="16.90" lengthAdjust="spacingAndGlyphs" stroke="#2a2a2a" stroke-width="0.15" fill="#2a2a2a" >ERK1</text>
<text x="447.30" y="220.70" font-size="6.1" text-anchor="start" textLength="16.90" lengthAdjust="spacingAndGlyphs" stroke="#2a2a2a" stroke-width="0.15" fill="#2a2a2a" >ERK2</text>
<text x="418.60" y="240.20" font-size="7.8" text-anchor="middle" stroke="#1c1c1c" stroke-width="0.15" fill="#1c1c1c" transform="rotate(-90 418.6 240.2)">%</text>
<text x="447.70" y="303.30" font-size="8.6" text-anchor="start" textLength="50.50" lengthAdjust="spacingAndGlyphs" stroke="#1c1c1c" stroke-width="0.15" fill="#1c1c1c" >Time (minutes)</text>
<rect x="0" y="0" width="520" height="1.2" fill="#000"/>
<rect x="0" y="0" width="1.3" height="313" fill="#000"/>
<rect x="518" y="0" width="2" height="313" fill="#000"/>
<rect x="0" y="311" width="520" height="2" fill="#000"/>
</svg></div></body></html>
